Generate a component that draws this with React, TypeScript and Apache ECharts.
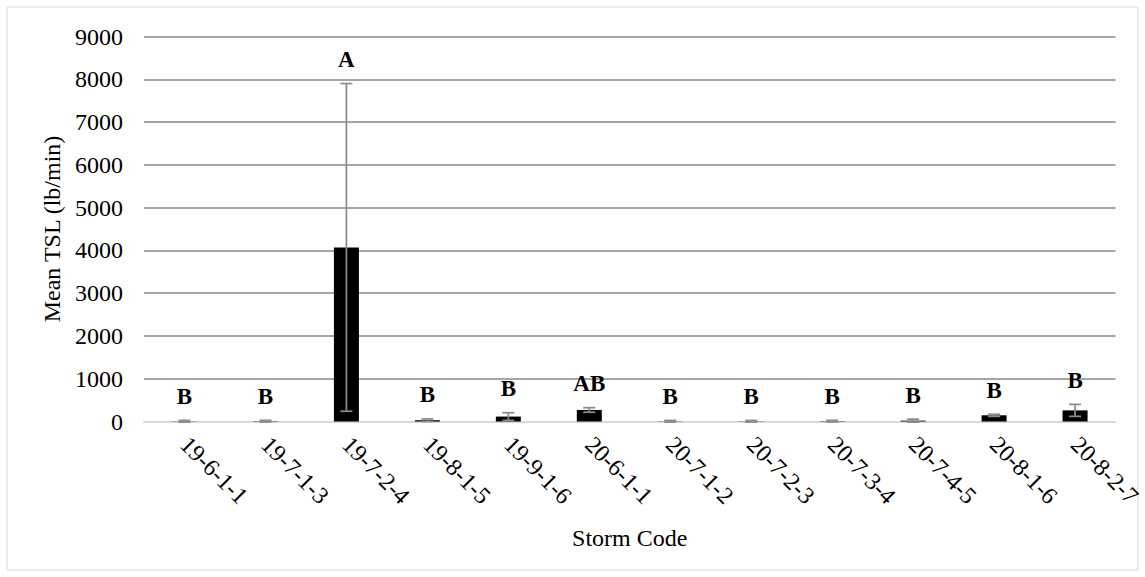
import React, { useEffect, useRef } from 'react';
import * as echarts from 'echarts';

const categories = ['19-6-1-1', '19-7-1-3', '19-7-2-4', '19-8-1-5', '19-9-1-6', '20-6-1-1', '20-7-1-2', '20-7-2-3', '20-7-3-4', '20-7-4-5', '20-8-1-6', '20-8-2-7'];
const means = [5, 8, 4070, 30, 115, 270, 5, 5, 8, 20, 145, 260];
const errors = [20, 20, 3830, 30, 90, 53, 20, 20, 20, 35, 25, 140];
const letters = ['B', 'B', 'A', 'B', 'B', 'AB', 'B', 'B', 'B', 'B', 'B', 'B'];
const yMin = 0;
const yMax = 9000;
const yStep = 1000;

export default function App() {
  const ref = useRef<HTMLDivElement>(null);
  useEffect(() => {
    const chart = echarts.init(ref.current!, null, { renderer: 'svg' });
    const font = 'Liberation Serif';
    const errData = means.map((m, i) => [i, m - errors[i], m + errors[i]]);
    const letterData = means.map((m, i) => [i, m + errors[i]]);
    chart.setOption({
      animation: false,
      backgroundColor: '#fff',
      textStyle: { fontFamily: font },
      graphic: [
        {
          type: 'rect',
          shape: { x: 7, y: 7, width: 1131, height: 563 },
          style: { fill: 'none', stroke: '#d9d9d9', lineWidth: 1 },
          silent: true,
        },
      ],
      grid: { left: 144, right: 28, top: 36.5, bottom: 155.5 },
      xAxis: {
        type: 'category',
        data: categories,
        axisLine: { lineStyle: { color: '#d9d9d9', width: 2 } },
        axisTick: { show: false },
        axisLabel: { rotate: -45, margin: 19, fontFamily: font, fontSize: 24, color: '#000', interval: 0 },
        name: 'Storm Code',
        nameLocation: 'middle',
        nameGap: 104,
        nameTextStyle: { fontFamily: font, fontSize: 24, color: '#000' },
        splitLine: { show: false },
      },
      yAxis: {
        type: 'value',
        min: yMin,
        max: yMax,
        interval: yStep,
        axisLine: { show: false },
        axisTick: { show: false },
        splitLine: { lineStyle: { color: '#878787', width: 1.5 } },
        axisLabel: { margin: 21, fontFamily: font, fontSize: 24, color: '#000', formatter: (v: number) => String(v) },
        name: 'Mean TSL (lb/min)',
        nameLocation: 'middle',
        nameGap: 67,
        nameTextStyle: { fontFamily: font, fontSize: 24, color: '#000' },
      },
      series: [
        {
          type: 'bar',
          data: means,
          barWidth: 25,
          itemStyle: { color: '#000' },
          z: 2,
        },
        {
          type: 'custom',
          data: errData,
          encode: { x: 0, y: [1, 2] },
          z: 3,
          renderItem: (params: any, api: any) => {
            const x = api.value(0);
            const lo = api.coord([x, api.value(1)]);
            const hi = api.coord([x, api.value(2)]);
            const hw = 6;
            const style = { stroke: '#8c8c8c', lineWidth: 1.75 };
            return {
              type: 'group',
              children: [
                { type: 'line', shape: { x1: hi[0], y1: hi[1], x2: lo[0], y2: lo[1] }, style },
                { type: 'line', shape: { x1: hi[0] - hw, y1: hi[1], x2: hi[0] + hw, y2: hi[1] }, style },
                { type: 'line', shape: { x1: lo[0] - hw, y1: lo[1], x2: lo[0] + hw, y2: lo[1] }, style },
              ],
            };
          },
        },
        {
          type: 'custom',
          data: letterData,
          encode: { x: 0, y: 1 },
          z: 4,
          renderItem: (params: any, api: any) => {
            const p = api.coord([api.value(0), api.value(1)]);
            return {
              type: 'text',
              x: p[0],
              y: p[1] - 24,
              style: {
                text: letters[params.dataIndex],
                fontFamily: font,
                fontWeight: 'bold',
                fontSize: 23,
                fill: '#000',
                align: 'center',
                verticalAlign: 'middle',
              },
            };
          },
        },
      ],
    });
    return () => chart.dispose();
  }, []);
  return <div ref={ref} style={{ position: 'absolute', left: 0, top: 0, width: 1145, height: 577 }} />;
}
